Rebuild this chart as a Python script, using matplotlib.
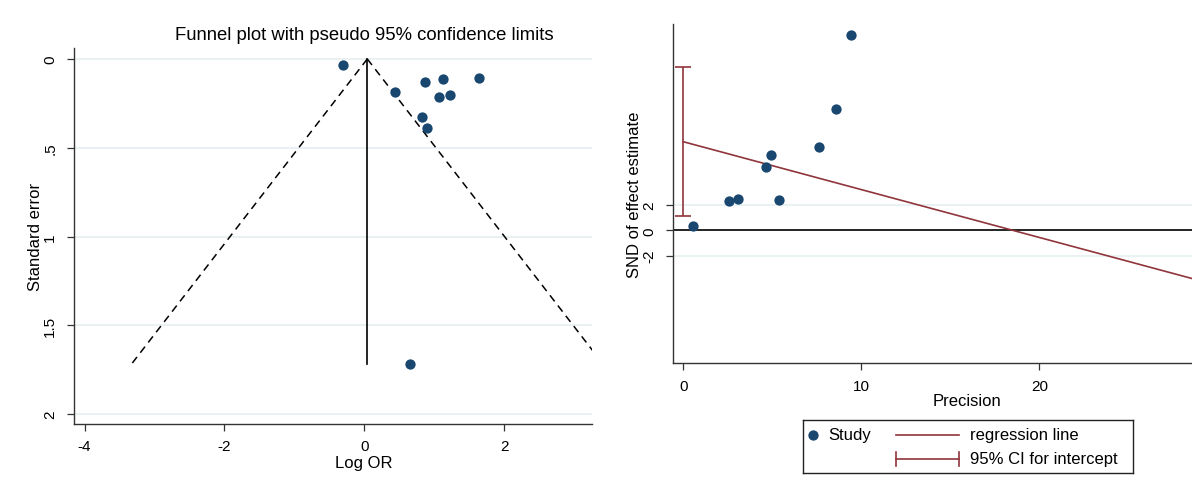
import numpy as np
import matplotlib
matplotlib.use("Agg")
import matplotlib.pyplot as plt

plt.rcParams['font.family'] = ['Liberation Sans', 'DejaVu Sans']

# funnel plot data (log OR, standard error)
log_or = [-0.30, 0.44, 0.86, 1.12, 1.63, 1.07, 1.22, 0.82, 0.89, 0.65]
se = [0.032, 0.184, 0.130, 0.114, 0.105, 0.214, 0.203, 0.328, 0.387, 1.72]
pooled = 0.04
se_max = 1.72

# Egger plot data (precision, standardised effect)
precision = [0.56, 2.57, 3.06, 5.39, 4.65, 4.91, 7.64, 8.58, 9.42]
snd = [0.36, 2.29, 2.47, 2.37, 4.98, 5.98, 6.61, 9.59, 15.44]
intercept = 7.0
slope = -0.378
ci_low, ci_high = 1.13, 12.93

NAVY = "#1a476f"
MAROON = "#90353b"
GRID = "#e6eff1"
AXC = "#333333"

fig = plt.figure(figsize=(11.92, 4.89), dpi=100)


def style_axes(ax):
    for s in ["top", "right"]:
        ax.spines[s].set_visible(False)
    for s in ["left", "bottom"]:
        ax.spines[s].set_color(AXC)
        ax.spines[s].set_linewidth(1.0)
    ax.tick_params(direction="out", length=5, width=0.9, color=AXC,
                   labelsize=11)
    ax.tick_params(axis="x", pad=6)
    ax.tick_params(axis="y", pad=7)


# ---- left: funnel plot ----
ax1 = fig.add_axes([74 / 1192, 1 - 425 / 489, 518 / 1192, 375.7 / 489])
style_axes(ax1)
for g in [0, 0.5, 1, 1.5, 2]:
    ax1.axhline(g, color=GRID, lw=1.2, zorder=0)

s_line = np.array([0.0, se_max])
ax1.plot(pooled - 1.96 * s_line, s_line, color="black", ls=(0, (5, 3.5)), lw=1.1)
ax1.plot(pooled + 1.96 * s_line, s_line, color="black", ls=(0, (5, 3.5)), lw=1.1)
ax1.plot([pooled, pooled], [0, se_max], color="black", lw=1.2)
ax1.scatter(log_or, se, s=55, color=NAVY, zorder=3, linewidths=0)

ax1.set_xlim(-4.15, 3.25)
ax1.set_ylim(2.056, -0.06)
ax1.set_xticks([-4, -2, 0, 2])
ax1.set_xticklabels(["-4", "-2", "0", "2"])
ax1.set_yticks([0, 0.5, 1, 1.5, 2])
ax1.set_yticklabels(["0", ".5", "1", "1.5", "2"], rotation=90, va="center")
ax1.set_xlabel("Log OR", fontsize=12)
ax1.set_ylabel("Standard error", fontsize=12, labelpad=0)
ax1.xaxis.set_label_coords(0.56, -0.082)
fig.text(364 / 1192, 1 - 36 / 489, "Funnel plot with pseudo 95% confidence limits",
         fontsize=13.3, ha="center", va="center")

# ---- right: Egger regression ----
ax2 = fig.add_axes([672.7 / 1192, 1 - 364.3 / 489, 519.3 / 1192, 339.3 / 489])
style_axes(ax2)
for g in [2, -2]:
    ax2.axhline(g, color=GRID, lw=1.2, zorder=0)
ax2.axhline(0, color="black", lw=1.2, zorder=1)

xr = np.array([0.0, 30.0])
ax2.plot(xr, intercept + slope * xr, color=MAROON, lw=1.2, zorder=2)
ax2.errorbar([0], [(ci_low + ci_high) / 2], yerr=[[(ci_high - ci_low) / 2]],
             fmt="none", ecolor=MAROON, elinewidth=1.2, capsize=6, capthick=1.2, zorder=2)
ax2.scatter(precision, snd, s=55, color=NAVY, zorder=3, linewidths=0)

ax2.set_xlim(-0.6, 28.58)
ax2.set_ylim(-10.5, 16.3)
ax2.set_xticks([0, 10, 20])
ax2.set_yticks([-2, 0, 2])
ax2.set_yticklabels(["-2", "0", "2"], rotation=90, va="center")
ax2.set_xlabel("Precision", fontsize=12)
ax2.set_ylabel("SND of effect estimate", fontsize=12, labelpad=0)
ax2.xaxis.set_label_coords(0.567, -0.089)

# ---- legend ----
lg = fig.add_axes([803 / 1192, 1 - 474 / 489, 330 / 1192, 53 / 489])
lg.set_xlim(0, 330)
lg.set_ylim(0, 53)
lg.set_xticks([])
lg.set_yticks([])
for s in lg.spines.values():
    s.set_color("#222222")
    s.set_linewidth(1.0)
lg.scatter([10], [38], s=55, color=NAVY, linewidths=0)
lg.text(25, 38, "Study", fontsize=12, va="center")
lg.plot([93, 156], [38, 38], color=MAROON, lw=1.2)
lg.text(167, 38, "regression line", fontsize=12, va="center")
lg.plot([93, 156], [14, 14], color=MAROON, lw=1.2)
lg.plot([93, 93], [7, 21], color=MAROON, lw=1.2)
lg.plot([156, 156], [7, 21], color=MAROON, lw=1.2)
lg.text(167, 14, "95% CI for intercept", fontsize=12, va="center")

fig.savefig("out.png", dpi=100)
